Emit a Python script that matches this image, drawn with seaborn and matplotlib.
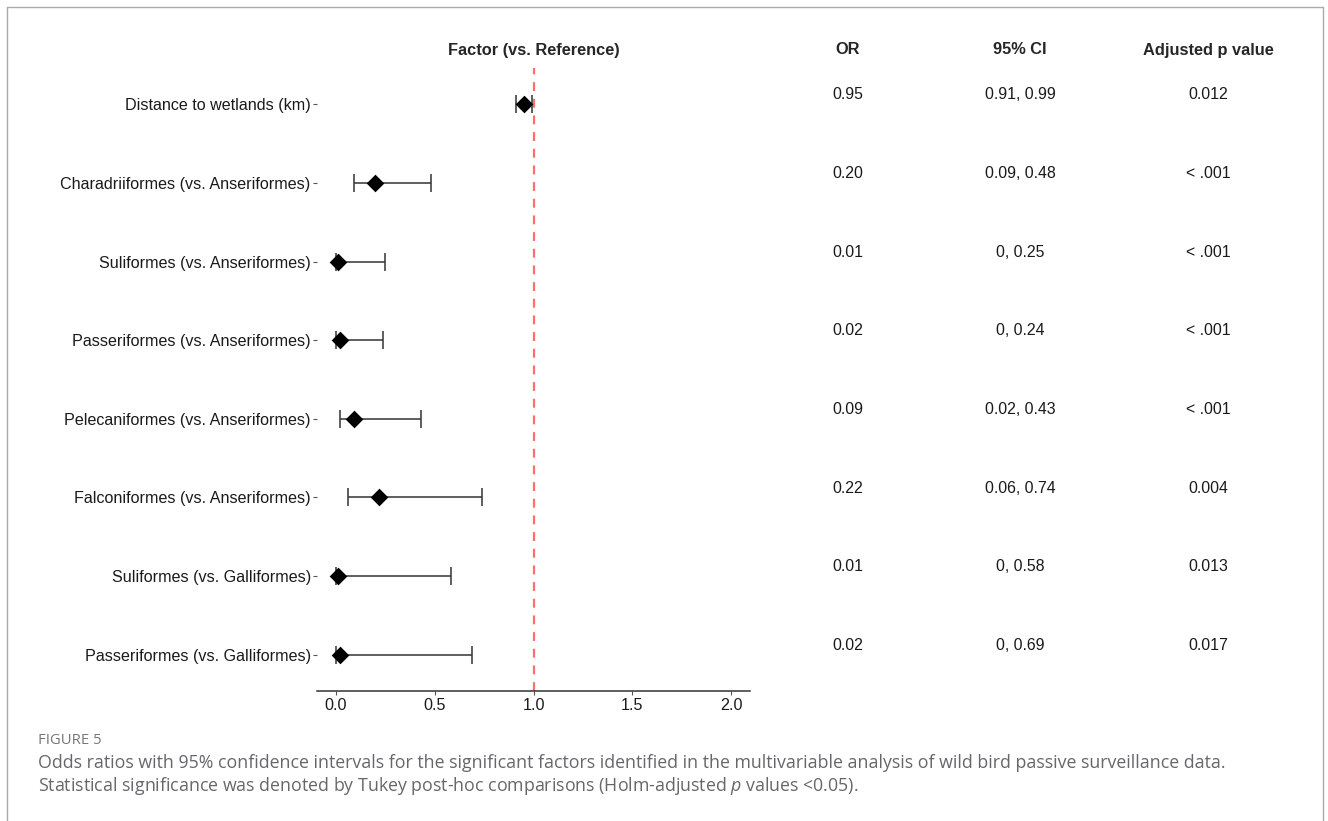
import numpy as np
import pandas as pd
import matplotlib
matplotlib.use("Agg")
import matplotlib.pyplot as plt
import matplotlib.transforms as mtransforms
from matplotlib.lines import Line2D
import seaborn as sns

# --- DATA ---
factors = [
    "Distance to wetlands (km)",
    "Charadriiformes (vs. Anseriformes)",
    "Suliformes (vs. Anseriformes)",
    "Passeriformes (vs. Anseriformes)",
    "Pelecaniformes (vs. Anseriformes)",
    "Falconiformes (vs. Anseriformes)",
    "Suliformes (vs. Galliformes)",
    "Passeriformes (vs. Galliformes)",
]
odds_ratio = [0.95, 0.20, 0.01, 0.02, 0.09, 0.22, 0.01, 0.02]
ci_low = [0.91, 0.09, 0.0, 0.0, 0.02, 0.06, 0.0, 0.0]
ci_high = [0.99, 0.48, 0.25, 0.24, 0.43, 0.74, 0.58, 0.69]
or_labels = ["0.95", "0.20", "0.01", "0.02", "0.09", "0.22", "0.01", "0.02"]
ci_labels = ["0.91, 0.99", "0.09, 0.48", "0, 0.25", "0, 0.24",
             "0.02, 0.43", "0.06, 0.74", "0, 0.58", "0, 0.69"]
p_labels = ["0.012", "< .001", "< .001", "< .001", "< .001", "0.004", "0.013", "0.017"]
x_ticks = [0.0, 0.5, 1.0, 1.5, 2.0]

df = pd.DataFrame({"Factor": factors, "OR": odds_ratio, "lo": ci_low, "hi": ci_high})

sns.set_style("white")
plt.rcParams["font.family"] = ["Liberation Sans", "DejaVu Sans"]
plt.rcParams["mathtext.fontset"] = "custom"
plt.rcParams["mathtext.rm"] = "Open Sans"
plt.rcParams["mathtext.it"] = "Open Sans:italic"

W, H = 1328, 821
fig = plt.figure(figsize=(W / 100, H / 100), dpi=100)
ax = fig.add_axes([317 / W, 1 - 691 / H, 433 / W, 623 / H])

ypos = np.arange(len(factors))
ax.errorbar(df["OR"], ypos, xerr=[df["OR"] - df["lo"], df["hi"] - df["OR"]],
            fmt="none", ecolor="#333333", elinewidth=1.1, capsize=6.5, capthick=1.1, zorder=2)
sns.stripplot(data=df, x="OR", y="Factor", order=factors, jitter=False, marker="D",
              color="black", size=9, linewidth=0, ax=ax, zorder=3)
ax.axvline(1.0, color="#ff6f6f", linestyle=(0, (4, 3.5)), linewidth=1.6, zorder=1)

ax.set_xlim(-0.096, 2.096)
ax.set_ylim(7.46, -0.46)
ax.set_xticks(x_ticks)
ax.set_xticklabels([f"{t:.1f}" for t in x_ticks])
ax.set_xlabel("")
ax.set_ylabel("")
sns.despine(ax=ax, left=True, top=True, right=True)
ax.spines["bottom"].set_color("#333333")
ax.spines["bottom"].set_linewidth(1.1)
ax.tick_params(axis="both", labelsize=11.6, labelcolor="#1a1a1a", color="#555555",
               length=3, width=0.8, pad=2)
ax.tick_params(axis="y", left=True, pad=1.5)
ax.tick_params(axis="x", bottom=True)

# --- table columns ---
head_y = 1 - 50 / H
fig.text(534 / W, head_y, "Factor (vs. Reference)", ha="center", va="center",
         fontsize=11.8, fontweight="bold")
cols = [(848, "OR", or_labels), (1020, "95% CI", ci_labels), (1208, "Adjusted p value", p_labels)]
trans = mtransforms.blended_transform_factory(fig.transFigure, ax.transData)
for xpx, head, labels in cols:
    fig.text(xpx / W, head_y, head, ha="center", va="center", fontsize=11.8, fontweight="bold")
    for i, lab in enumerate(labels):
        ax.text(xpx / W, i - 0.12, lab, transform=trans, ha="center", va="center",
                fontsize=11.4, color="#1a1a1a", clip_on=False)

# --- caption ---
cap_color = "#66676a"
fig.text(38 / W, 1 - 740 / H, "FIGURE 5", ha="left", va="center", fontsize=10.7,
         color="#777777", family=["Open Sans", "DejaVu Sans"])
fig.text(38 / W, 1 - 763 / H,
         "Odds ratios with 95% confidence intervals for the significant factors identified in the "
         "multivariable analysis of wild bird passive surveillance data.",
         ha="left", va="center", fontsize=12.8, color=cap_color, family=["Open Sans", "DejaVu Sans"])
fig.text(38 / W, 1 - 786 / H,
         "Statistical significance was denoted by Tukey post-hoc comparisons (Holm-adjusted $\\it{p}$ values <0.05).",
         ha="left", va="center", fontsize=12.8, color=cap_color, family=["Open Sans", "DejaVu Sans"])

# --- frame ---
fc = "#aaaaaa"
fig.add_artist(Line2D([7 / W, 7 / W], [0, 1 - 7 / H], color=fc, lw=1, transform=fig.transFigure))
fig.add_artist(Line2D([7 / W, 1323 / W], [1 - 7 / H, 1 - 7 / H], color=fc, lw=1, transform=fig.transFigure))
fig.add_artist(Line2D([1323 / W, 1323 / W], [0, 1 - 7 / H], color=fc, lw=1, transform=fig.transFigure))

fig.savefig("out.png", dpi=100)
